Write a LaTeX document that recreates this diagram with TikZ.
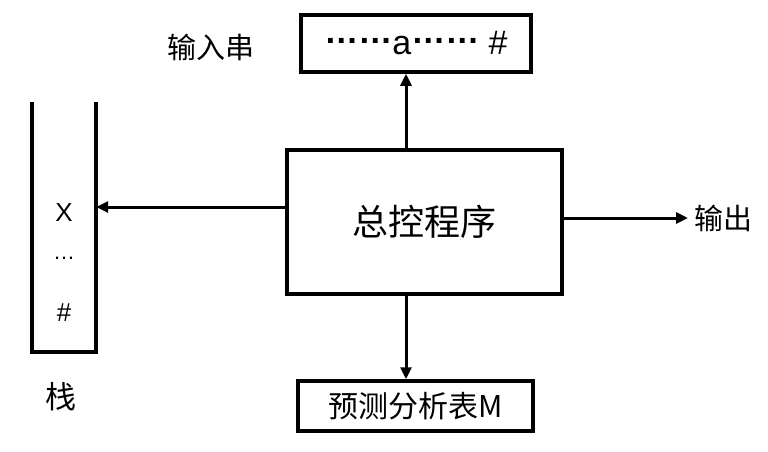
\documentclass[tikz,border=0pt]{standalone}
\usepackage{fontspec}
\setmainfont{Liberation Sans}
\newfontfamily\cjk{Noto Sans CJK SC}
\usetikzlibrary{arrows.meta}
\newcommand{\middots}{\raisebox{0.34em}{\bfseries ……}}

\begin{document}
\begin{tikzpicture}[x=1pt,y=-1pt,>={Triangle[length=12pt,width=11pt]},
  box/.style={draw,line width=3.5pt,inner sep=0pt},
  conn/.style={->,line width=3pt},
  lbl/.style={font=\fontsize{29}{29}\cjk,inner sep=0pt}]
  \useasboundingbox (0,0) rectangle (768,451);

  \node[box,minimum width=275pt,minimum height=144pt] (ctrl) at (424.5,222) {\fontsize{36}{36}\cjk 总控程序};
  \node[box,minimum width=230pt,minimum height=57pt,font=\fontsize{34}{34}\selectfont] (input) at (416,43.5) {\middots a\middots\ \#};
  \node[box,minimum width=235pt,minimum height=50pt] (table) at (415.5,406) {\fontsize{30}{30}\cjk 预测分析表M};

  % stack, open at the top
  \node[minimum width=64pt,minimum height=250pt,inner sep=0pt] (stack) at (64,227) {};
  \draw[line width=3.5pt] (stack.north west) -- (stack.south west) -- (stack.south east) -- (stack.north east);
  \node[font=\fontsize{26}{26}\selectfont] (top) at (64,213) {X};
  \node[font=\fontsize{22}{22}\selectfont] (dots) at (64,258) {\dots};
  \node[font=\fontsize{26}{26}\selectfont] (bot) at (64,313) {\#};

  \node[lbl] (inlbl) at (211,47) {输入串};
  \node[lbl,font=\fontsize{31}{31}\cjk] (stlbl) at (61,397) {栈};
  \node[lbl,anchor=west,inner sep=6pt] (out) at (688,218) {输出};

  \coordinate (tap) at (406,0);
  \coordinate (push) at (0,207);
  \draw[conn] (tap |- ctrl.north) -- (tap |- input.south);
  \draw[conn] (tap |- ctrl.south) -- (tap |- table.north);
  \draw[conn] (push -| ctrl.west) -- (push -| stack.east);
  \draw[conn] (ctrl.east |- out.west) -- (out.west);
\end{tikzpicture}
\end{document}
